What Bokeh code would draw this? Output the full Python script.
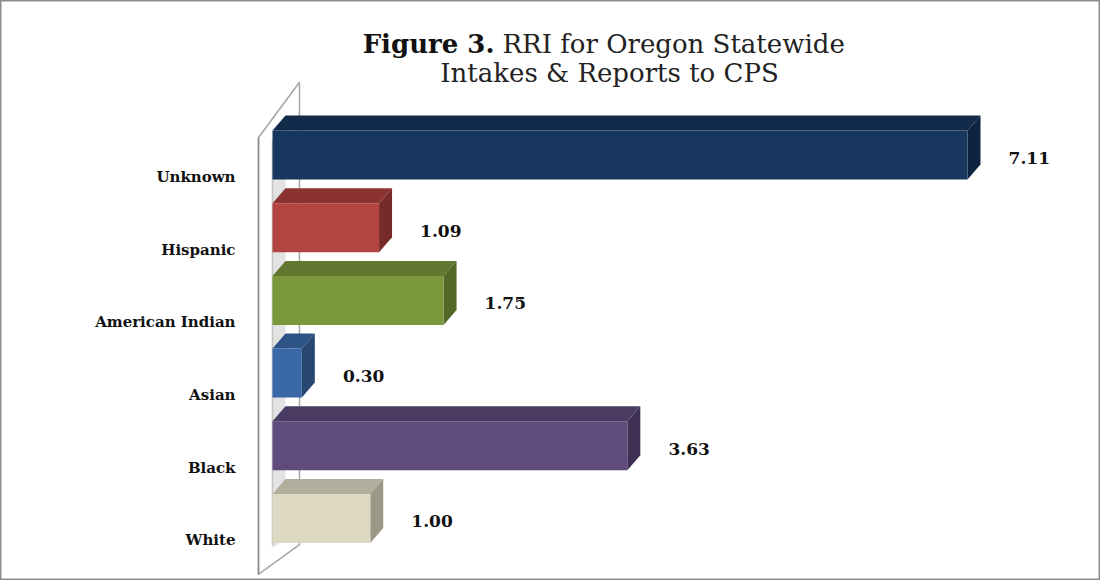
from bokeh.plotting import figure
from bokeh.models import ColumnDataSource
from bokeh.core.properties import value
from bokeh.embed import file_html
from bokeh.resources import INLINE

# ---- data (top to bottom as shown) ----
categories = ["Unknown", "Hispanic", "American Indian", "Asian", "Black", "White"]
rri_values = [7.11, 1.09, 1.75, 0.30, 3.63, 1.00]
front_colors = ["#17375E", "#B24442", "#7A973B", "#3A67A6", "#5F4B7C", "#DDD9C3"]
top_colors = ["#122B4B", "#8C3331", "#607830", "#2E5387", "#4A3B62", "#B1AE9D"]
side_colors = ["#0E2340", "#772B29", "#536828", "#274672", "#3E3153", "#9B9885"]

title_bold = "Figure 3."
title_rest = "RRI for Oregon Statewide"
title_line2 = "Intakes & Reports to CPS"

# ---- geometry (pixels per data unit) ----
PX = 97.75
PY = 72.7
W, H = 1100, 580
X0_PIX = 272      # canvas x of value 0
Y0_PIX = 518      # canvas y of bottom category centre
DX = 13 / PX      # 3D depth, x
DY = 15 / PY      # 3D depth, y
HALF = 24.5 / PY  # half bar height

n = len(categories)
ys = [n - 1 - i for i in range(n)]

p = figure(width=W, height=H, output_backend="svg", toolbar_location=None,
           x_range=(-X0_PIX / PX, (W - X0_PIX) / PX),
           y_range=(-(H - Y0_PIX) / PY, Y0_PIX / PY),
           x_axis_type=None, y_axis_type=None, min_border=0)
p.grid.visible = False
p.outline_line_color = "#8E8E8E"
p.outline_line_width = 2
p.background_fill_color = "white"
p.border_fill_color = "white"

def px2x(px):
    return (px - 280) / PX

def py2y(py):
    return (526 - py) / PY

# ---- side wall ----
top_y = (n - 1) + 0.24
bot_y = -0.77
wall_x = [px2x(266), px2x(266), px2x(307), px2x(307)]
wall_y = [bot_y, top_y, top_y + 0.76, bot_y + 0.41]
p.patch(wall_x, wall_y, fill_color="#FFFFFF", line_color="#A6A6A6", line_width=1.5)
p.patch([0, 0, DX, DX], [bot_y + 0.36, top_y + 0.0, top_y + 0.3, bot_y + 0.5],
        fill_color="#DCDCDC", fill_alpha=0.8, line_color=None)
p.line([0, 0], [bot_y + 0.4, top_y - 0.05], line_color="#C4C4C4", line_width=1.5)
p.line([px2x(266), px2x(266)], [bot_y, top_y], line_color="#8A8A8A", line_width=1.5)

# ---- 3D bars ----
top_xs, top_ys, side_xs, side_ys = [], [], [], []
for v, y in zip(rri_values, ys):
    t = y + HALF
    b = y - HALF
    top_xs.append([0, v, v + DX, DX])
    top_ys.append([t, t, t + DY, t + DY])
    side_xs.append([v, v + DX, v + DX, v])
    side_ys.append([b, b + DY, t + DY, t])

src = ColumnDataSource(dict(y=ys, v=rri_values, front=front_colors,
                            topc=top_colors, side=side_colors,
                            top_xs=top_xs, top_ys=top_ys,
                            side_xs=side_xs, side_ys=side_ys,
                            cat=categories,
                            lab=[f"{v:.2f}" for v in rri_values],
                            lab_x=[v + 0.42 for v in rri_values],
                            lab_y=[y - 0.04 for y in ys],
                            cat_y=[y - 0.30 for y in ys]))

p.patches("top_xs", "top_ys", source=src, fill_color="topc", line_color=None)
p.patches("side_xs", "side_ys", source=src, fill_color="side", line_color=None)
p.hbar(y="y", left=0, right="v", height=2 * HALF, source=src,
       fill_color="front", line_color=None)

# ---- value labels ----
p.text(x="lab_x", y="lab_y", text="lab", source=src,
       text_font=value("DejaVu Serif"), text_font_style="bold",
       text_font_size="17px", text_color="#111111",
       text_align="left", text_baseline="middle")

# ---- category labels ----
p.text(x=px2x(243), y="cat_y", text="cat", source=src,
       text_font=value("DejaVu Serif"), text_font_style="bold",
       text_font_size="15px", text_color="#111111",
       text_align="right", text_baseline="middle")

# ---- title ----
p.text(x=[px2x(502)], y=[py2y(51)], text=[title_bold],
       text_font=value("DejaVu Serif"), text_font_style="bold",
       text_font_size="26px", text_color="#111111",
       text_align="right", text_baseline="middle")
p.text(x=[px2x(510)], y=[py2y(51)], text=[title_rest],
       text_font=value("DejaVu Serif"),
       text_font_size="26px", text_color="#222222",
       text_align="left", text_baseline="middle")
p.text(x=[px2x(617)], y=[py2y(80)], text=[title_line2],
       text_font=value("DejaVu Serif"),
       text_font_size="26px", text_color="#222222",
       text_align="center", text_baseline="middle")

open("out.html", "w").write(file_html(p, INLINE))
